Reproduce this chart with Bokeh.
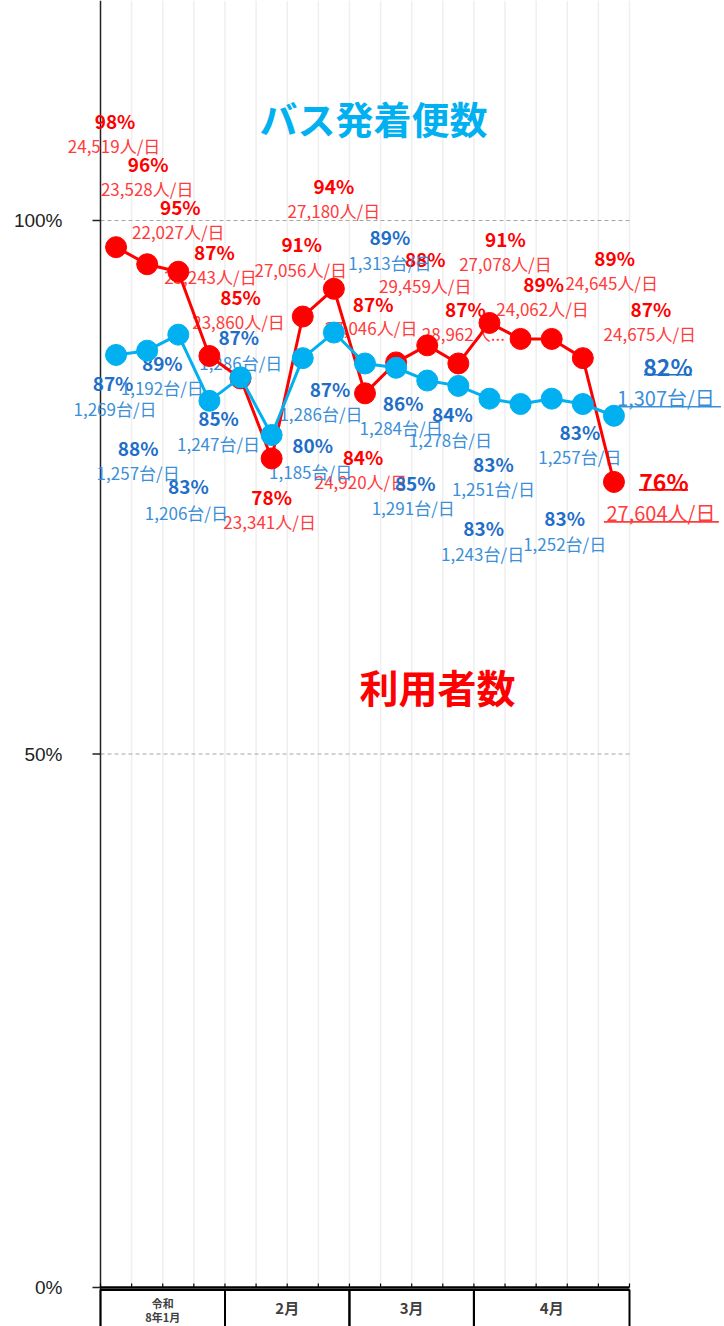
from bokeh.plotting import figure
from bokeh.models import Range1d, ColumnDataSource
from bokeh.core.properties import value
from bokeh.embed import file_html
from bokeh.resources import INLINE

# ---------------- data ----------------
months = ["令和\n8年1月", "2月", "3月", "4月"]
weeks_per_month = [4, 4, 4, 5]

# 利用者数 (ratio vs. normal, %) and users per day
red_pct = [97.5, 95.9, 95.2, 87.3, 85.2, 77.7, 91.0, 93.6, 83.8, 86.7,
           88.3, 86.6, 90.4, 88.9, 88.9, 87.1, 75.5]
red_pct_text = ["98%", "96%", "95%", "87%", "85%", "78%", "91%", "94%", "84%", "87%",
                "88%", "87%", "91%", "89%", "89%", "87%", "76%"]
red_users = ["24,519人/日", "23,528人/日", "22,027人/日", "23,243人/日", "23,860人/日",
             "23,341人/日", "27,056人/日", "27,180人/日", "24,920人/日", "27,046人/日",
             "29,459人/日", "28,962人...", "27,078人/日", "24,062人/日", "24,645人/日",
             "24,675人/日", "27,604人/日"]

# バス発着便数 (ratio vs. normal, %) and buses per day
blue_pct = [87.4, 87.8, 89.3, 83.1, 85.3, 79.9, 87.1, 89.5, 86.6, 86.2,
            85.0, 84.5, 83.3, 82.8, 83.3, 82.8, 81.7]
blue_pct_text = ["87%", "88%", "89%", "83%", "85%", "80%", "87%", "89%", "87%", "86%",
                 "85%", "84%", "83%", "83%", "83%", "83%", "82%"]
blue_buses = ["1,269台/日", "1,257台/日", "1,192台/日", "1,206台/日", "1,247台/日",
              "1,185台/日", "1,286台/日", "1,313台/日", "1,286台/日", "1,284台/日",
              "1,291台/日", "1,278台/日", "1,251台/日", "1,243台/日", "1,252台/日",
              "1,257台/日", "1,307台/日"]

y_ticks = [0, 50, 100]
y_tick_labels = ["0%", "50%", "100%"]

# ---------------- label placement (screen px offsets from each point) ----------------
red_pct_off = [(-1, -127), (1, -101), (2, -65), (5, -105), (0, -82), (0, 38), (-1, -73),
               (0, -103), (-2, 63), (-23, -59), (-2, -87), (7, -55), (16, -84), (23, -55),
               (63, -81), (68, -50), (50, -1)]
red_cnt_off = [(-2, -102), (0, -76), (0, -40), (1, -80), (-2, -57), (-2, 63), (-2, -47),
               (0, -78), (-4, 88), (-25, -35), (-2, -60), (5, -30), (16, -59), (22, -30),
               (60, -56), (67, -25), (47, 31)]
blue_pct_off = [(-3, 28), (-9, 97), (-16, 28), (-21, 85), (-22, 40), (41, 10), (-64, -22),
                (56, -96), (-35, 25), (7, 35), (-12, 102), (-6, 28), (4, 65), (-37, 123),
                (13, 119), (-3, 27), (54, -50)]
blue_cnt_off = [(-1, 54), (-9, 122), (-16, 53), (-23, 112), (-22, 66), (39, 37), (-62, 4),
                (56, -70), (-44, 50), (5, 60), (-14, 127), (-8, 54), (4, 90), (-38, 149),
                (13, 145), (-3, 52), (52, -18)]

# ---------------- layout ----------------
W, H = 724, 1326
N = len(red_pct)
PX = 529 / N          # px per category
PY = 10.67            # px per percent
X0 = 100              # canvas x of category axis start
Y0 = 1287             # canvas y of 0%

x_start, x_end = -X0 / PX, (W - X0) / PX
y_start, y_end = -(H - Y0) / PY, Y0 / PY

FONT = value("Noto Sans CJK JP")

p = figure(width=W, height=H, x_range=Range1d(x_start, x_end),
           y_range=Range1d(y_start, y_end), output_backend="svg",
           toolbar_location=None, x_axis_location=None, y_axis_location=None,
           min_border=0)
p.outline_line_color = None
p.background_fill_color = "white"
p.border_fill_color = "white"
p.grid.grid_line_color = None

xs = [i + 0.5 for i in range(N)]
bounds = list(range(N + 1))

# vertical light grid
p.segment(x0=bounds[1:], y0=[0] * N, x1=bounds[1:], y1=[y_end] * N,
          line_color="#efefef", line_width=1.5)
# dashed horizontal grid
p.segment(x0=[0, 0], y0=[50, 100], x1=[N, N], y1=[50, 100],
          line_color="#a6a6a6", line_width=1, line_dash="4 3")

# y axis (manual)
p.segment(x0=[0], y0=[y_start], x1=[0], y1=[y_end], line_color="#222222", line_width=1.5)
p.segment(x0=[0] * 3, y0=y_ticks, x1=[-8 / PX] * 3, y1=y_ticks,
          line_color="#222222", line_width=1.5)
p.text(x=[-38 / PX] * 3, y=y_ticks, text=y_tick_labels, text_align="right",
       text_baseline="middle", text_font=value("Liberation Sans"),
       text_font_size="19px", text_color="#222222")

# x axis + month table
p.segment(x0=[0], y0=[0], x1=[N], y1=[0], line_color="black", line_width=2.5)
p.segment(x0=bounds, y0=[0] * (N + 1), x1=bounds, y1=[4 / PY] * (N + 1),
          line_color="black", line_width=1.2)
lefts, rights, centers = [], [], []
c = 0
for w in weeks_per_month:
    lefts.append(c)
    rights.append(c + w)
    centers.append(c + w / 2)
    c += w
p.quad(left=lefts, right=rights, top=[-2.5 / PY] * 4, bottom=[y_start - 2] * 4,
       fill_color=None, line_color="black", line_width=2)
first_lines = months[0].split("\n")
p.text(x=centers[:1] * 2, y=[-15 / PY, -29 / PY], text=first_lines, text_align="center",
       text_baseline="middle", text_font=FONT, text_font_style="bold",
       text_font_size="11px", text_color="#404040")
p.text(x=centers[1:], y=[-20 / PY] * 3, text=months[1:], text_align="center",
       text_baseline="middle", text_font=FONT, text_font_style="bold",
       text_font_size="15px", text_color="#404040")


def label_src(vals, texts, offs, idx):
    return ColumnDataSource(dict(
        x=[xs[i] + offs[i][0] / PX for i in idx],
        y=[vals[i] - offs[i][1] / PY for i in idx],
        t=[texts[i] for i in idx]))


reg = list(range(N - 1))
last = [N - 1]

# regular labels
p.text(x="x", y="y", text="t", source=label_src(red_pct, red_pct_text, red_pct_off, reg),
       text_align="center", text_baseline="middle", text_font=FONT,
       text_font_style="bold", text_font_size="19px", text_color="#ff0000")
p.text(x="x", y="y", text="t", source=label_src(red_pct, red_users, red_cnt_off, reg),
       text_align="center", text_baseline="middle", text_font=FONT,
       text_font_size="17px", text_color="#ff3b3b")
p.text(x="x", y="y", text="t", source=label_src(blue_pct, blue_pct_text, blue_pct_off, reg),
       text_align="center", text_baseline="middle", text_font=FONT,
       text_font_style="bold", text_font_size="19px", text_color="#1f6ec8")
p.text(x="x", y="y", text="t", source=label_src(blue_pct, blue_buses, blue_cnt_off, reg),
       text_align="center", text_baseline="middle", text_font=FONT,
       text_font_size="17px", text_color="#3b8fd9")

# last-week labels (larger, underlined)
p.text(x="x", y="y", text="t", source=label_src(red_pct, red_pct_text, red_pct_off, last),
       text_align="center", text_baseline="middle", text_font=FONT,
       text_font_style="bold", text_font_size="23px", text_color="#ff0000")
p.text(x="x", y="y", text="t", source=label_src(red_pct, red_users, red_cnt_off, last),
       text_align="center", text_baseline="middle", text_font=FONT,
       text_font_size="20px", text_color="#ff3b3b")
p.text(x="x", y="y", text="t", source=label_src(blue_pct, blue_pct_text, blue_pct_off, last),
       text_align="center", text_baseline="middle", text_font=FONT,
       text_font_style="bold", text_font_size="23px", text_color="#1f6ec8")
p.text(x="x", y="y", text="t", source=label_src(blue_pct, blue_buses, blue_cnt_off, last),
       text_align="center", text_baseline="middle", text_font=FONT,
       text_font_size="20px", text_color="#3b8fd9")

# underlines for last-week labels (px ranges relative to point)
k = N - 1
ul = [(red_pct[k], 25, 74, 8, "#ff0000"), (red_pct[k], -10, 105, 40, "#ff3b3b"),
      (blue_pct[k], 30, 78, -41, "#1f6ec8"), (blue_pct[k], 0, 107, -9, "#3b8fd9")]
p.segment(x0=[xs[k] + a / PX for _, a, b, d, col in ul],
          x1=[xs[k] + b / PX for _, a, b, d, col in ul],
          y0=[v - d / PY for v, a, b, d, col in ul],
          y1=[v - d / PY for v, a, b, d, col in ul],
          line_color=[col for *_, col in ul], line_width=1.6)

# series
p.line(xs, red_pct, line_color="#ff0000", line_width=3)
p.scatter(xs, red_pct, size=21, fill_color="#ff0000", line_color="#ff0000")
p.line(xs, blue_pct, line_color="#00b0f0", line_width=3)
p.scatter(xs, blue_pct, size=21, fill_color="#00b0f0", line_color="#00b0f0")

# series titles
p.text(x=[(373 - X0) / PX], y=[(Y0 - 117) / PY], text=["バス発着便数"],
       text_align="center", text_baseline="middle", text_font=FONT,
       text_font_style="bold", text_font_size="38px", text_color="#00b0f0")
p.text(x=[(437 - X0) / PX], y=[(Y0 - 685) / PY], text=["利用者数"],
       text_align="center", text_baseline="middle", text_font=FONT,
       text_font_style="bold", text_font_size="39px", text_color="#ff0000")

open("out.html", "w").write(file_html(p, INLINE))
